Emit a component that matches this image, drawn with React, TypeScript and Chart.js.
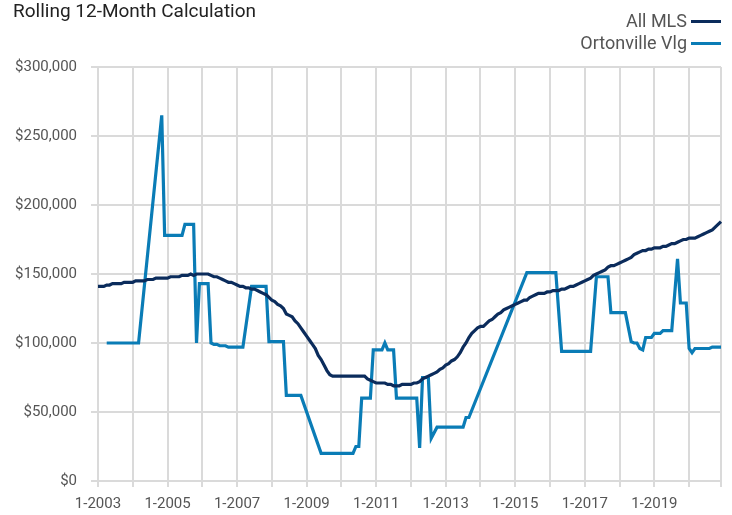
import React, { useEffect, useRef } from "react";
import { Chart, registerables } from "chart.js";

Chart.register(...registerables);

const years = [2003, 2004, 2005, 2006, 2007, 2008, 2009, 2010, 2011, 2012, 2013, 2014, 2015, 2016, 2017, 2018, 2019, 2020];
const months = [1, 2, 3, 4, 5, 6, 7, 8, 9, 10, 11, 12];
const categories: string[] = [];
years.forEach((y) => months.forEach((m) => categories.push(`${m}-${y}`)));

// values in thousands of dollars
const allMLS = [
  141, 141, 141, 142, 142, 143, 143, 143, 143, 144, 144, 144,
  144, 145, 145, 145, 145, 146, 146, 146, 147, 147, 147, 147,
  147, 148, 148, 148, 148, 149, 149, 149, 150, 149, 150, 150,
  150, 150, 150, 149, 148, 148, 147, 146, 145, 144, 144, 143,
  142, 141, 141, 140, 140, 139, 139, 138, 137, 136, 135, 133,
  131, 130, 128, 127, 125, 121, 120, 119, 116, 114, 111, 108,
  105, 102, 99, 96, 91, 88, 84, 80, 77, 76, 76, 76,
  76, 76, 76, 76, 76, 76, 76, 76, 76, 74, 73, 72,
  71, 71, 71, 71, 70, 70, 69, 69, 69, 70, 70, 70,
  70, 71, 71, 72, 74, 75, 76, 77, 78, 79, 81, 82,
  84, 85, 87, 88, 90, 93, 97, 100, 104, 107, 109, 111,
  112, 112, 114, 116, 117, 119, 121, 122, 124, 125, 126, 127,
  128, 129, 130, 131, 131, 133, 134, 135, 136, 136, 136, 137,
  137, 138, 138, 138, 139, 139, 140, 141, 141, 142, 143, 144,
  145, 146, 147, 149, 150, 151, 152, 153, 155, 156, 156, 157,
  158, 159, 160, 161, 162, 164, 165, 166, 167, 167, 168, 168,
  169, 169, 169, 170, 170, 171, 172, 172, 173, 174, 175, 175,
  176, 176, 176, 177, 178, 179, 180, 181, 182, 184, 186, 188,
];

const ortonville = [
  null, null, null, 100, 100, 100, 100, 100, 100, 100, 100, 100,
  100, 100, 100, null, null, null, null, null, null, null, 265, 178,
  178, 178, 178, 178, 178, 178, 186, 186, 186, 186, 100, 143,
  143, 143, 143, 100, 99, 99, 98, 98, 98, 97, 97, 97,
  97, 97, 97, null, null, 141, 141, 141, 141, 141, 141, 101,
  101, 101, 101, 101, 101, 62, 62, 62, 62, 62, 62, null,
  null, null, null, null, null, 20, 20, 20, 20, 20, 20, 20,
  20, 20, 20, 20, 20, 25, 25, 60, 60, 60, 60, 95,
  95, 95, 95, 100, 95, 95, 95, 60, 60, 60, 60, 60,
  60, 60, 60, 24, 75, 75, 75, 31, 35, 39, 39, 39,
  39, 39, 39, 39, 39, 39, 39, 46, 46, null, null, null,
  null, null, null, null, null, null, null, null, null, null, null, null,
  null, null, null, null, 151, 151, 151, 151, 151, 151, 151, 151,
  151, 151, 151, null, 94, 94, 94, 94, 94, 94, 94, 94,
  94, 94, 94, null, 148, 148, 148, 148, 148, 122, 122, 122,
  122, 122, 122, null, 101, 100, 100, 96, 95, 104, 104, 104,
  107, 107, 107, 109, 109, 109, 109, null, 161, 129, 129, 129,
  96, 93, 96, 96, 96, 96, 96, 96, 97, 97, 97, 97,
];

const yTicks = [0, 50000, 100000, 150000, 200000, 250000, 300000];
const seriesNames = ["All MLS", "Ortonville Vlg"];
const seriesColors = ["#0b2c5c", "#0a7cb6"];

const FONT = "Roboto, 'Liberation Sans', sans-serif";

export default function App() {
  const ref = useRef<HTMLCanvasElement | null>(null);

  useEffect(() => {
    if (!ref.current) return;
    const last = categories.length - 1;
    const chart = new Chart(ref.current, {
      type: "line",
      data: {
        labels: categories,
        datasets: [
          {
            label: seriesNames[0],
            data: allMLS.map((v) => v * 1000),
            borderColor: seriesColors[0],
            borderWidth: 3.2,
            pointRadius: 0,
            tension: 0,
          },
          {
            label: seriesNames[1],
            data: ortonville.map((v) => (v === null ? null : v * 1000)),
            borderColor: seriesColors[1],
            borderWidth: 3.2,
            pointRadius: 0,
            tension: 0,
            spanGaps: true,
          },
        ],
      },
      options: {
        animation: false,
        responsive: false,
        maintainAspectRatio: false,
        layout: { padding: { top: 67, right: 11, bottom: 0, left: 0 } },
        plugins: { legend: { display: false }, tooltip: { enabled: false }, title: { display: false } },
        scales: {
          x: {
            type: "category",
            offset: false,
            border: { display: false },
            grid: { color: "#dadada", lineWidth: 2, tickLength: 6, drawTicks: true },
            ticks: {
              autoSkip: false,
              maxRotation: 0,
              minRotation: 0,
              padding: 8,
              color: "#555",
              font: { family: FONT, size: 15 },
              callback: (_v: any, i: number) => {
                if (i % 24 === 0) return categories[i];
                if (i % 12 === 0 || i === last) return "";
                return null;
              },
            },
            afterFit: (scale: any) => {
              scale.height = 515 - 481;
            },
          },
          y: {
            min: 0,
            max: 300000,
            border: { display: false },
            afterBuildTicks: (scale: any) => {
              scale.ticks = yTicks.map((v) => ({ value: v }));
            },
            grid: { color: "#dadada", lineWidth: 2, tickLength: 7 },
            ticks: {
              padding: 14,
              color: "#555",
              font: { family: FONT, size: 15 },
              callback: (v: any) => "$" + Number(v).toLocaleString("en-US"),
            },
            afterFit: (scale: any) => {
              scale.width = 98;
            },
          },
        },
      },
    });
    return () => chart.destroy();
  }, []);

  return (
    <div style={{ position: "fixed", left: 0, top: 0, width: 732, height: 515, background: "#fff" }}>
      <canvas ref={ref} width={732} height={515} style={{ position: "absolute", left: 0, top: 0 }} />
      <div
        style={{
          position: "absolute",
          left: 13,
          top: -1,
          fontFamily: FONT,
          fontSize: 19,
          lineHeight: "24px",
          color: "#222",
          whiteSpace: "nowrap",
        }}
      >
        Rolling 12-Month Calculation
      </div>
      {seriesNames.map((name, i) => (
        <div
          key={name}
          style={{
            position: "absolute",
            right: 11,
            top: 9 + i * 22,
            display: "flex",
            alignItems: "center",
            fontFamily: FONT,
            fontSize: 18,
            lineHeight: "24px",
            color: "#555",
            whiteSpace: "nowrap",
          }}
        >
          <span>{name}</span>
          <span style={{ display: "inline-block", width: 30, height: 3, background: seriesColors[i], marginLeft: 4 }} />
        </div>
      ))}
    </div>
  );
}
